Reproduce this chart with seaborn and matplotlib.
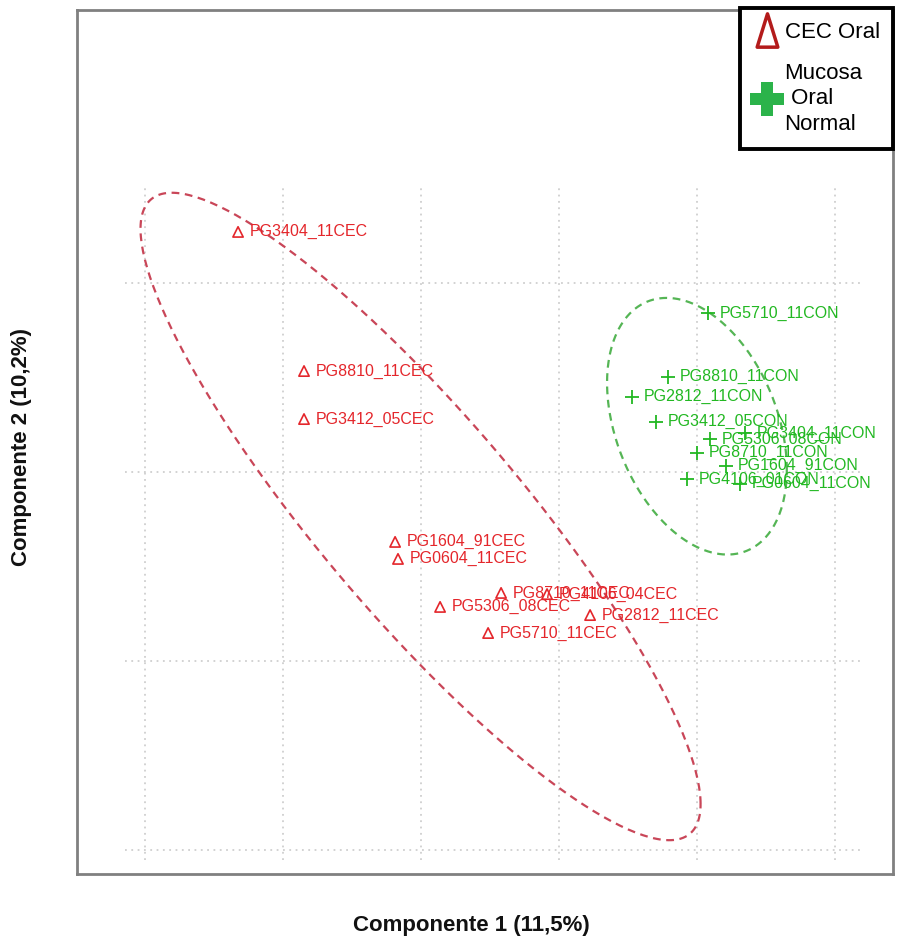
import numpy as np
import pandas as pd
import matplotlib
matplotlib.use("Agg")
import matplotlib.pyplot as plt
import seaborn as sns
from matplotlib.lines import Line2D
from matplotlib.path import Path

# ---------------- data ----------------
cec_labels = ["PG3404_11CEC", "PG8810_11CEC", "PG3412_05CEC", "PG1604_91CEC",
              "PG0604_11CEC", "PG8710_11CEC", "PG4106_04CEC", "PG5306_08CEC",
              "PG2812_11CEC", "PG5710_11CEC"]
cec_x = [-13.26, -8.48, -8.48, -1.88, -1.67, 5.80, 9.13, 1.38, 12.25, 4.86]
cec_y = [12.70, 5.34, 2.80, -3.70, -4.60, -6.40, -6.46, -7.14, -7.57, -8.52]

con_labels = ["PG5710_11CON", "PG8810_11CON", "PG2812_11CON", "PG3412_05CON",
              "PG3404_11CON", "PG5306_08CON", "PG8710_11CON", "PG1604_91CON",
              "PG4106_01CON", "PG0604_11CON"]
con_x = [20.80, 17.90, 15.29, 17.03, 23.48, 20.94, 19.99, 22.10, 19.28, 23.12]
con_y = [8.41, 5.03, 3.97, 2.65, 2.06, 1.74, 1.01, 0.32, -0.37, -0.63]

x_grid = [-20, -10, 0, 10, 20, 30]
y_grid = [-20, -10, 0, 10]

legend_labels = ["CEC Oral", "Mucosa\n Oral\nNormal"]
x_label = "Componente 1 (11,5%)"
y_label = "Componente 2 (10,2%)"

# ---------------- styling ----------------
RED = "#e4262b"
RED_ELL = "#c94658"
GREEN = "#22b822"
GREEN_ELL = "#55b555"
LEG_RED = "#b31b1b"
LEG_GREEN = "#2bb34a"

sns.set_theme(style="white")
plt.rcParams["font.family"] = ["Liberation Sans", "DejaVu Sans"]

df = pd.concat([
    pd.DataFrame({"x": cec_x, "y": cec_y, "label": cec_labels, "group": "CEC"}),
    pd.DataFrame({"x": con_x, "y": con_y, "label": con_labels, "group": "CON"}),
], ignore_index=True)

fig = plt.figure(figsize=(9, 9.44), dpi=100)
ax = fig.add_axes([77 / 900, 1 - 874 / 944, 816 / 900, 864 / 944])
ax.set_xlim(-24.93, 34.20)
ax.set_ylim(-21.27, 24.44)

# dotted grid segments limited to the panel range
ax.hlines(y_grid, -21.45, 31.96, colors="#cfcfcf", linestyles=(0, (1, 2.5)),
          linewidth=1.3, zorder=0)
ax.vlines(x_grid, -20.53, 15.19, colors="#cfcfcf", linestyles=(0, (1, 2.5)),
          linewidth=1.3, zorder=0)


def conf_ellipse(x, y, level=0.95, n=300):
    pts = np.column_stack([x, y])
    mu = pts.mean(axis=0)
    cov = np.cov(pts.T)
    t = np.sqrt(-2 * np.log(1 - level))
    L = np.linalg.cholesky(cov)
    th = np.linspace(0, 2 * np.pi, n)
    circ = np.vstack([np.cos(th), np.sin(th)])
    e = mu[:, None] + t * (L @ circ)
    return e[0], e[1]


ex, ey = conf_ellipse(cec_x, cec_y)
ax.plot(ex, ey, color=RED_ELL, linestyle=(0, (3.5, 2.5)), linewidth=1.6, zorder=1)
gx, gy = conf_ellipse(con_x, con_y)
ax.plot(gx, gy, color=GREEN_ELL, linestyle=(0, (3.5, 2.5)), linewidth=1.6, zorder=1)

cec_df = df[df.group == "CEC"]
con_df = df[df.group == "CON"]
sns.scatterplot(data=cec_df, x="x", y="y", marker="^", s=55, ax=ax,
                legend=False, zorder=3)
coll = ax.collections[-1]
coll.set_facecolor("none")
coll.set_edgecolor(RED)
coll.set_linewidth(1.2)

sns.scatterplot(data=con_df, x="x", y="y", marker="+", s=110, color=GREEN,
                linewidth=1.3, ax=ax, legend=False, zorder=3)

for _, r in df.iterrows():
    ax.annotate(r["label"], (r["x"], r["y"]), xytext=(8.5, 0),
                textcoords="offset points", ha="left", va="center",
                fontsize=11.5, color=RED if r["group"] == "CEC" else GREEN,
                zorder=4)

ax.set_xticks([])
ax.set_yticks([])
ax.set_xlabel(x_label, fontsize=16, fontweight="bold", color="#111111")
ax.set_ylabel(y_label, fontsize=16, fontweight="bold", color="#111111")
ax.xaxis.set_label_coords(0.483, -0.047)
ax.yaxis.set_label_coords(-0.0555, 0.494)

for s in ax.spines.values():
    s.set_color("#808080")
    s.set_linewidth(2.0)

tri = Path([(-0.62, -1.0), (0.62, -1.0), (0.0, 1.0), (-0.62, -1.0)],
           [Path.MOVETO, Path.LINETO, Path.LINETO, Path.CLOSEPOLY])
handles = [
    Line2D([], [], linestyle="none", marker=tri, markersize=24,
           markerfacecolor="none", markeredgecolor=LEG_RED, markeredgewidth=2.5),
    Line2D([], [], linestyle="none", marker="P", markersize=25,
           markerfacecolor=LEG_GREEN, markeredgecolor=LEG_GREEN, markeredgewidth=0),
]
leg = ax.legend(handles, legend_labels, loc="upper right",
                bbox_to_anchor=(1.0, 1.002), fontsize=16, frameon=True,
                fancybox=False, handlelength=1.2, handletextpad=0.2,
                borderpad=0.6, labelspacing=0.9, borderaxespad=0.0,
                labelcolor="black")
for t in leg.get_texts():
    t.set_linespacing(1.3)
fr = leg.get_frame()
fr.set_edgecolor("black")
fr.set_linewidth(2.8)
fr.set_facecolor("white")
fr.set_alpha(1)

fig.savefig("out.png", dpi=100)
